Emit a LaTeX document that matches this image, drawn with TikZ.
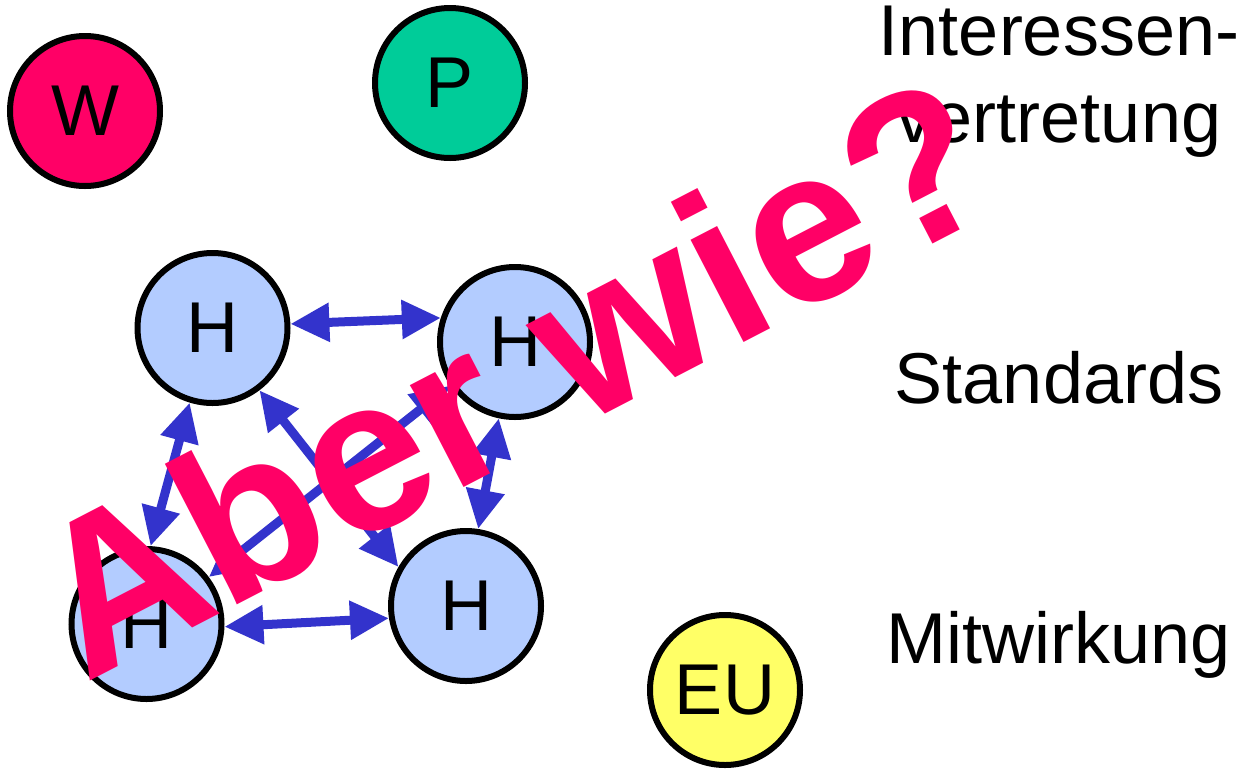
\documentclass[tikz,border=0pt]{standalone}
\usepackage{fontspec}
\setmainfont{Liberation Sans}
\usetikzlibrary{arrows.meta}
\definecolor{wred}{HTML}{FF0066}
\definecolor{pgreen}{HTML}{00CC99}
\definecolor{hblue}{HTML}{B3CCFF}
\definecolor{euyellow}{HTML}{FFFF66}
\definecolor{linkblue}{HTML}{3333CC}
\tikzset{
  actor/.style={circle, draw=black, line width=6pt, minimum size=150pt, inner sep=0pt,
    font=\fontsize{72}{86}\selectfont},
  house/.style={actor, fill=hblue},
  link/.style={draw=linkblue, line width=9pt,
    {Triangle[length=39pt,width=37pt]}-{Triangle[length=39pt,width=37pt]}},
  topic/.style={anchor=base, inner sep=0pt, font=\fontsize{72}{86}\selectfont},
}
\begin{document}
\begin{tikzpicture}[x=1pt, y=-1pt]
  \fill[white] (0,0) rectangle (1247,769);
  \useasboundingbox (0,0) rectangle (1247,769);

  % actors
  \node[actor, fill=wred]     (w)  at (85,111)  {W};
  \node[actor, fill=pgreen]   (p)  at (450,83)  {P};
  \node[actor, fill=euyellow] (eu) at (725,690) {EU};

  % houses
  \node[house] (h1) at (212.5,328) {H};
  \node[house] (h2) at (515,342)   {H};
  \node[house] (h3) at (146.5,624) {H};
  \node[house] (h4) at (466,606)   {H};

  % links between the houses
  \draw[link] (h1.3)     -- (h2.162);
  \draw[link] (h1.253.7) -- (h3.87.6);
  \draw[link] (h1.307.5) -- (h4.150);
  \draw[link] (h3.37.7)  -- (h2.214);
  \draw[link] (h2.258.4) -- (h4.81.9);
  \draw[link] (h3.358.8) -- (h4.189);

  % topics on the right
  \node[topic] (interessen) at (1059,55)  {Interessen-};
  \node[topic] (vertretung) at (1059,142) {vertretung};
  \node[topic] (standards)  at (1059,403) {Standards};
  \node[topic] (mitwirkung) at (1059,663) {Mitwirkung};

  % the question across everything
  \node[anchor=base west, rotate=27.4, inner sep=0pt, text=wred,
        font=\fontsize{218}{218}\selectfont\bfseries] (frage) at (85,684) {Aber wie?};
\end{tikzpicture}
\end{document}
